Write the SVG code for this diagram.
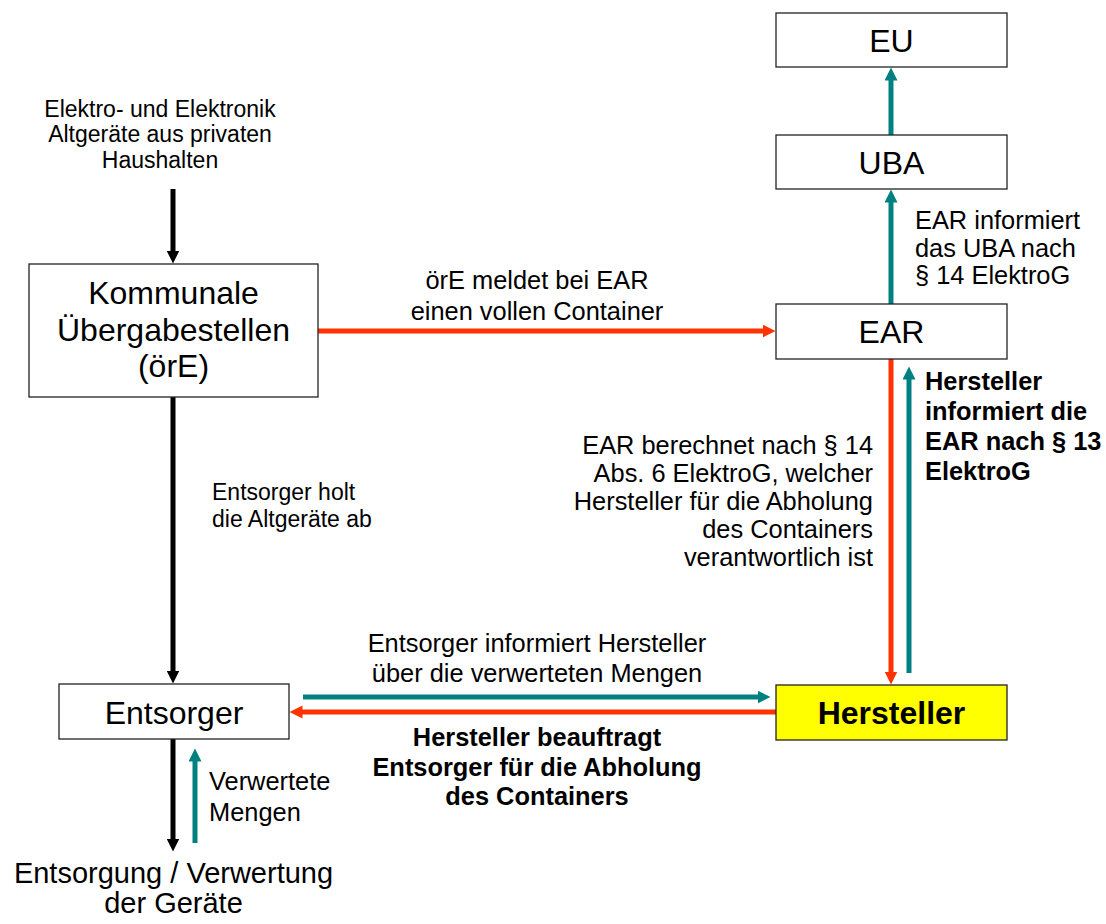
<svg xmlns="http://www.w3.org/2000/svg" width="1106" height="924" viewBox="0 0 1106 924">
<style>
text{font-family:"Liberation Sans",Arial,sans-serif;fill:#000}
.big{font-size:32px}
.ann{font-size:25.4px}
.b{font-weight:bold}
.m{text-anchor:middle}
.e{text-anchor:end}
.box{fill:#fff;stroke:#222;stroke-width:1.3}
.k{stroke:#000;stroke-width:5;fill:none}
.t{stroke:#008080;stroke-width:5;fill:none}
.r{stroke:#ff3300;stroke-width:5;fill:none}
</style>
<defs>
<marker id="hk" markerUnits="userSpaceOnUse" markerWidth="14" markerHeight="14" refX="0.5" refY="6.5" orient="auto"><path d="M0,0 L13,6.5 L0,13 z" fill="#000"/></marker>
<marker id="ht" markerUnits="userSpaceOnUse" markerWidth="14" markerHeight="14" refX="0.5" refY="6.5" orient="auto"><path d="M0,0 L13,6.5 L0,13 z" fill="#008080"/></marker>
<marker id="hr" markerUnits="userSpaceOnUse" markerWidth="14" markerHeight="14" refX="0.5" refY="6.5" orient="auto"><path d="M0,0 L13,6.5 L0,13 z" fill="#ff3300"/></marker>
</defs>

<g id="connectors">
<path class="k" d="M173,189 V251" marker-end="url(#hk)"/>
<path class="k" d="M173,397 V671" marker-end="url(#hk)"/>
<path class="k" d="M173,739 V839" marker-end="url(#hk)"/>
<path class="t" d="M195,843 V761" marker-end="url(#ht)"/>
<path class="r" d="M318,331 H763" marker-end="url(#hr)"/>
<path class="t" d="M891,135 V80" marker-end="url(#ht)"/>
<path class="t" d="M891,304 V202" marker-end="url(#ht)"/>
<path class="r" d="M891,359 V672" marker-end="url(#hr)"/>
<path class="t" d="M909,673 V379" marker-end="url(#ht)"/>
<path class="t" d="M303,697 H758" marker-end="url(#ht)"/>
<path class="r" d="M776,712 H302" marker-end="url(#hr)"/>
</g>

<g id="eu"><rect class="box" x="776" y="13" width="231" height="54"/><text class="big m" x="891.5" y="52">EU</text></g>
<g id="uba"><rect class="box" x="776" y="135" width="231" height="54"/><text class="big m" x="891.5" y="174">UBA</text></g>
<g id="ear"><rect class="box" x="776" y="304" width="231" height="55"/><text class="big m" x="891.5" y="343">EAR</text></g>
<g id="hersteller"><rect x="776" y="685" width="231" height="55" fill="#ffff00" stroke="#222" stroke-width="1.3"/><text class="big b m" x="891.5" y="724">Hersteller</text></g>
<g id="kommunale"><rect class="box" x="29" y="264" width="289" height="133"/>
<text class="big m" x="173.5" y="304">Kommunale</text>
<text class="big m" x="173.5" y="341">Übergabestellen</text>
<text class="big m" x="173.5" y="377">(örE)</text></g>
<g id="entsorger"><rect class="box" x="59" y="684" width="230" height="55"/><text class="big m" x="174" y="724">Entsorger</text></g>

<g id="quelle">
<text class="m" style="font-size:23px" x="160" y="117">Elektro- und Elektronik</text>
<text class="m" style="font-size:23px" x="160" y="142">Altgeräte aus privaten</text>
<text class="m" style="font-size:23px" x="160" y="168">Haushalten</text>
</g>
<g id="ziel">
<text class="m" style="font-size:29px" x="173.5" y="883">Entsorgung / Verwertung</text>
<text class="m" style="font-size:29px" x="173.5" y="913">der Geräte</text>
</g>

<g id="labels">
<text class="ann m" x="537" y="289">örE meldet bei EAR</text>
<text class="ann m" x="537" y="320">einen vollen Container</text>

<text class="ann" x="915" y="229">EAR informiert</text>
<text class="ann" x="915" y="257">das UBA nach</text>
<text class="ann" x="915" y="284">§ 14 ElektroG</text>

<text class="ann b" x="925" y="390">Hersteller</text>
<text class="ann b" x="925" y="420">informiert die</text>
<text class="ann b" x="925" y="450">EAR nach § 13</text>
<text class="ann b" x="925" y="480">ElektroG</text>

<text class="ann e" x="873" y="454">EAR berechnet nach § 14</text>
<text class="ann e" x="873" y="482">Abs. 6 ElektroG, welcher</text>
<text class="ann e" x="873" y="510">Hersteller für die Abholung</text>
<text class="ann e" x="873" y="538">des Containers</text>
<text class="ann e" x="873" y="566">verantwortlich ist</text>

<text style="font-size:23px" x="212" y="500">Entsorger holt</text>
<text style="font-size:23px" x="212" y="527">die Altgeräte ab</text>

<text class="ann m" x="537" y="652">Entsorger informiert Hersteller</text>
<text class="ann m" x="537" y="682">über die verwerteten Mengen</text>

<text class="ann b m" x="537" y="746">Hersteller beauftragt</text>
<text class="ann b m" x="537" y="776">Entsorger für die Abholung</text>
<text class="ann b m" x="537" y="805">des Containers</text>

<text class="ann" x="209" y="790">Verwertete</text>
<text class="ann" x="209" y="821">Mengen</text>
</g>
</svg>
